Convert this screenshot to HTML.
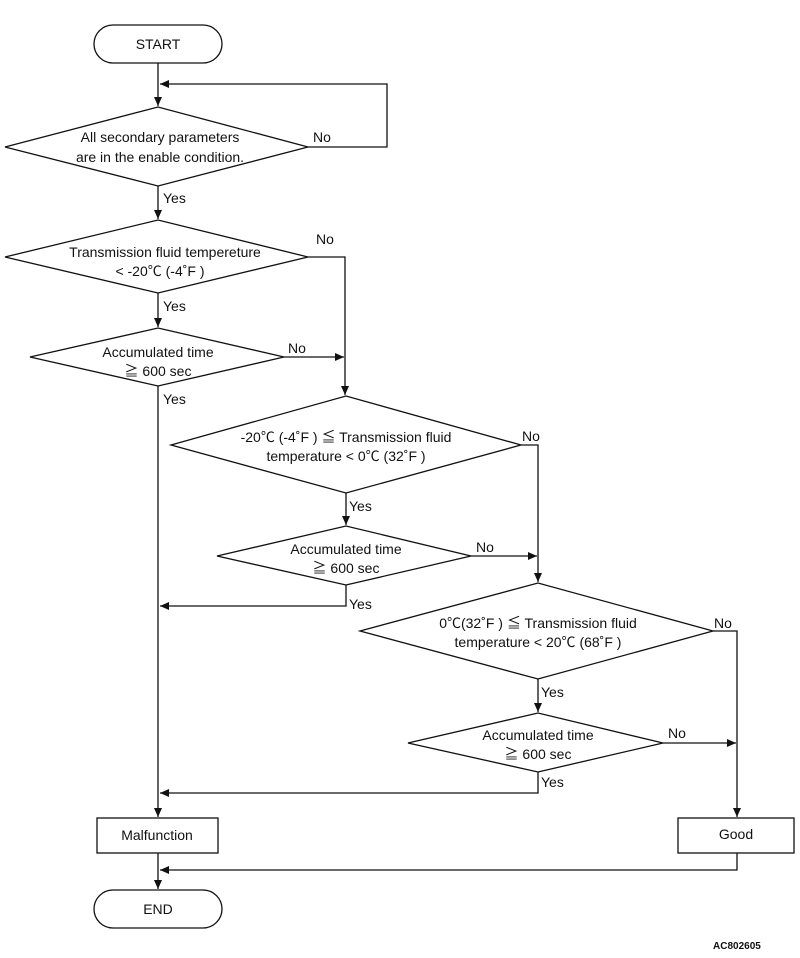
<!DOCTYPE html>
<html><head><meta charset="utf-8"><style>
html,body{margin:0;padding:0;background:#fff;}
svg{display:block;}
text{font-family:"Liberation Sans","Noto Sans CJK JP",sans-serif;font-size:14px;fill:#111;}
</style></head><body>
<svg width="800" height="958" viewBox="0 0 800 958" xmlns="http://www.w3.org/2000/svg">
<defs><marker id="a" markerWidth="10" markerHeight="10" refX="9" refY="5" orient="auto" markerUnits="userSpaceOnUse"><path d="M0,1 L9,5 L0,9 z" fill="#111"/></marker></defs>
<g fill="none" stroke="#111" stroke-width="1.3">
<rect x="94" y="25" width="128" height="38" rx="19"/>
<rect x="94" y="890" width="128" height="38" rx="19"/>
<polygon points="5,147 158,107 308,147 158,186" fill="#fff"/>
<polygon points="5,257 158,220 308,257 158,293" fill="#fff"/>
<polygon points="30,357 158,328 284,357 158,386" fill="#fff"/>
<polygon points="171,445 346,396 521,445 346,493" fill="#fff"/>
<polygon points="217,556 346,526 471,556 346,585" fill="#fff"/>
<polygon points="360,631 538,583 713,631 538,679" fill="#fff"/>
<polygon points="408,743 538,713 663,743 538,772" fill="#fff"/>
<rect x="97" y="818" width="121" height="35"/>
<rect x="678" y="818" width="116" height="35"/>
<line x1="158" y1="63" x2="158" y2="106" marker-end="url(#a)"/>
<polyline points="308,147 387,147 387,84 160,84" marker-end="url(#a)"/>
<line x1="158" y1="186" x2="158" y2="219" marker-end="url(#a)"/>
<polyline points="308,257 345,257 345,395" marker-end="url(#a)"/>
<line x1="158" y1="293" x2="158" y2="327" marker-end="url(#a)"/>
<line x1="284" y1="357" x2="344" y2="357" marker-end="url(#a)"/>
<line x1="158" y1="386" x2="158" y2="817" marker-end="url(#a)"/>
<polyline points="521,445 538,445 538,582" marker-end="url(#a)"/>
<line x1="346" y1="493" x2="346" y2="525" marker-end="url(#a)"/>
<line x1="471" y1="556" x2="537" y2="556" marker-end="url(#a)"/>
<polyline points="346,585 346,606 160,606" marker-end="url(#a)"/>
<polyline points="713,631 737,631 737,817" marker-end="url(#a)"/>
<line x1="538" y1="679" x2="538" y2="712" marker-end="url(#a)"/>
<line x1="663" y1="743" x2="736" y2="743" marker-end="url(#a)"/>
<polyline points="538,772 538,793 160,793" marker-end="url(#a)"/>
<polyline points="737,853 737,870 160,870" marker-end="url(#a)"/>
<line x1="158" y1="853" x2="158" y2="889" marker-end="url(#a)"/>
</g>
<g text-anchor="middle">
<text x="158" y="49">START</text>
<text x="158" y="914">END</text>
<text x="160" y="142">All secondary parameters</text>
<text x="160" y="162">are in the enable condition.</text>
<text x="165" y="257">Transmission fluid tempereture</text>
<text x="160" y="276">&lt; -20℃ (-4˚F )</text>
<text x="158" y="357">Accumulated time</text>
<text x="158" y="376">≧ 600 sec</text>
<text x="346" y="442">-20℃ (-4˚F ) ≦ Transmission fluid</text>
<text x="346" y="461">temperature &lt; 0℃ (32˚F )</text>
<text x="346" y="554">Accumulated time</text>
<text x="346" y="573">≧ 600 sec</text>
<text x="538" y="628">0℃(32˚F ) ≦ Transmission fluid</text>
<text x="538" y="647">temperature &lt; 20℃ (68˚F )</text>
<text x="538" y="740">Accumulated time</text>
<text x="538" y="759">≧ 600 sec</text>
<text x="157" y="840">Malfunction</text>
<text x="736" y="839">Good</text>
</g>
<text x="313" y="142">No</text>
<text x="163" y="203">Yes</text>
<text x="316" y="244">No</text>
<text x="163" y="311">Yes</text>
<text x="288" y="353">No</text>
<text x="163" y="404">Yes</text>
<text x="522" y="441">No</text>
<text x="349" y="511">Yes</text>
<text x="476" y="552">No</text>
<text x="349" y="609">Yes</text>
<text x="714" y="628">No</text>
<text x="541" y="697">Yes</text>
<text x="668" y="738">No</text>
<text x="541" y="787">Yes</text>
<text x="713" y="949" style="font-size:10px;font-weight:bold">AC802605</text>
</svg>
</body></html>
